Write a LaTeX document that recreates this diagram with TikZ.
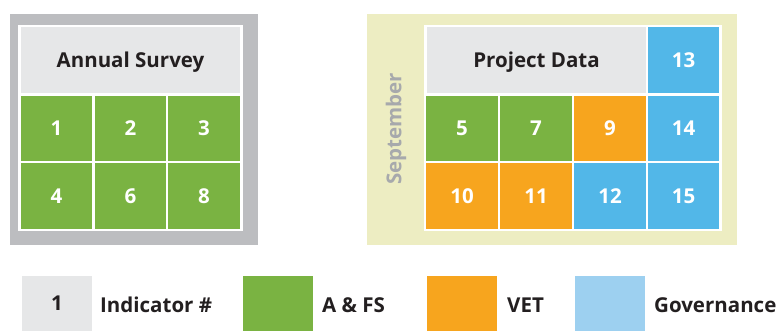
\documentclass[tikz,border=0pt]{standalone}
\usepackage{fontspec}
\setmainfont{Open Sans}
\definecolor{afs}{HTML}{7AB342}
\definecolor{vet}{HTML}{F7A51E}
\definecolor{gov}{HTML}{52B7E8}
\definecolor{govlight}{HTML}{9DD0F0}
\definecolor{hdr}{HTML}{E6E7E8}
\definecolor{frameg}{HTML}{BCBDC0}
\definecolor{framey}{HTML}{EDEDC2}
\definecolor{ink}{HTML}{231F20}
\definecolor{septext}{HTML}{A7A9AC}
\newcommand{\bigbold}{\fontsize{20.5}{20.5}\selectfont\bfseries}
\tikzset{
  cell/.style={draw=none, inner sep=0pt, minimum width=71.5pt, minimum height=65.5pt,
    text=white, font=\bigbold},
  header/.style={cell, fill=hdr, text=ink, minimum width=219pt, minimum height=66pt, text depth=0pt},
  legbox/.style={draw=none, inner sep=0pt, minimum width=70pt, minimum height=55pt},
  leglabel/.style={anchor=west, inner sep=0pt, text=ink, font=\bigbold},
  frame/.style={draw=none, inner sep=0pt},
}
\begin{document}
\begin{tikzpicture}[x=1pt,y=-1pt]
\useasboundingbox (0,0) rectangle (776,331);
\fill[white] (0,0) rectangle (776,331);

% Annual survey block
\node[frame, fill=frameg, minimum width=248pt, minimum height=231pt] (leftframe) at (134,129.5) {};
\node[frame, fill=white, minimum width=225pt, minimum height=206pt] (leftinner) at (130.5,128) {};
\node[header] (survey) at (130.5,60) {Annual Survey};
\node[cell, fill=afs] (i1) at (56.5,128.5) {1};
\node[cell, fill=afs] (i2) at (130.5,128.5) {2};
\node[cell, fill=afs] (i3) at (204,128.5) {3};
\node[cell, fill=afs] (i4) at (56.5,196) {4};
\node[cell, fill=afs] (i6) at (130.5,196) {6};
\node[cell, fill=afs] (i8) at (204,196) {8};

% Project data block
\node[frame, fill=framey, minimum width=370pt, minimum height=231pt] (rightframe) at (552,129.5) {};
\node[frame, fill=white, minimum width=298pt, minimum height=206pt] (rightinner) at (573,128) {};
\node[header] (project) at (536.5,60) {Project Data};
\node[cell, fill=gov] (i13) at (683.5,60) {13};
\node[cell, fill=afs] (i5) at (462,128.5) {5};
\node[cell, fill=afs] (i7) at (536,128.5) {7};
\node[cell, fill=vet] (i9) at (610,128.5) {9};
\node[cell, fill=gov] (i14) at (683.5,128.5) {14};
\node[cell, fill=vet] (i10) at (462,196) {10};
\node[cell, fill=vet] (i11) at (536,196) {11};
\node[cell, fill=gov] (i12) at (610,196) {12};
\node[cell, fill=gov] (i15) at (683.5,196) {15};
\node[rotate=90, inner sep=0pt, text=septext, font=\bigbold] (month) at (396,129) {September};

% Legend
\node[legbox, fill=hdr, text=ink, font=\bigbold] (keynum) at (57,303.5) {1};
\node[leglabel] (keynumtxt) at (100,305) {Indicator \#};
\node[legbox, fill=afs] (keyafs) at (278,303.5) {};
\node[leglabel] (keyafstxt) at (322,305) {A \& FS};
\node[legbox, fill=vet] (keyvet) at (462,303.5) {};
\node[leglabel] (keyvettxt) at (507,305) {VET};
\node[legbox, fill=govlight] (keygov) at (609.5,303.5) {};
\node[leglabel] (keygovtxt) at (654,305) {Governance};
\end{tikzpicture}
\end{document}
